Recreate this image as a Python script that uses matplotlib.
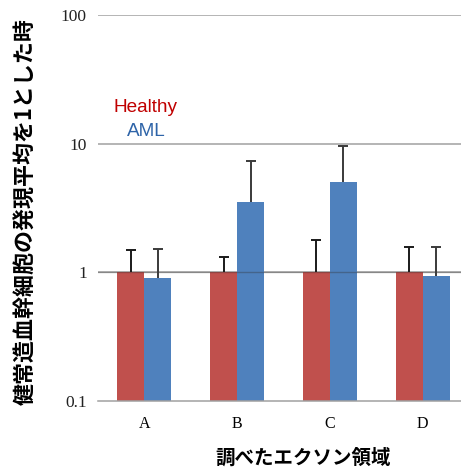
import matplotlib
matplotlib.use("Agg")
import matplotlib.pyplot as plt
import numpy as np

categories = ["A", "B", "C", "D"]
healthy = [1.0, 1.0, 1.0, 1.0]
aml = [0.90, 3.54, 5.07, 0.93]
healthy_err = [0.48, 0.32, 0.78, 0.57]
aml_err = [0.61, 3.79, 4.46, 0.64]
y_ticks = [0.1, 1, 10, 100]
y_tick_labels = ["0.1", "1", "10", "100"]

red = "#c0504d"
blue = "#4f81bd"

fig = plt.figure(figsize=(4.61, 4.70), dpi=100)
ax = fig.add_axes([98 / 461, 1 - 401 / 470, 371 / 461, 386 / 470])

x = np.arange(len(categories))
w = 0.29
ax.bar(x - w / 2, healthy, width=w, color=red, zorder=2)
ax.bar(x + w / 2, aml, width=w, color=blue, zorder=2)

# upper-only error bars
err_kw = dict(fmt="none", capsize=3.5, elinewidth=1.4, capthick=1.4, zorder=3)
for xs, vals, errs, col in [(x - w / 2, healthy, healthy_err, "#1a1a1a"),
                            (x + w / 2, aml, aml_err, "#3a3a3a")]:
    eb = ax.errorbar(xs, vals, yerr=[np.zeros(len(vals)), errs], ecolor=col, **err_kw)
    caps = eb[1]
    if len(caps) == 2:
        caps[0].set_visible(False)

ax.set_yscale("log")
ax.set_ylim(0.1, 100)
ax.set_xlim(-0.5, 3.5)

# horizontal guide lines at each decade
for v in y_ticks[1:]:
    ax.axhline(v, color="#a0a0a0", lw=1.1, zorder=1)
ax.axhline(1, color="#303030", lw=1.0, alpha=0.35, zorder=2.5)

for s in ["top", "right", "left"]:
    ax.spines[s].set_visible(False)
ax.spines["bottom"].set_color("#a0a0a0")
ax.spines["bottom"].set_linewidth(1.1)

ax.set_yticks(y_ticks)
ax.set_yticklabels(y_tick_labels, family="Liberation Serif", fontsize=12.5, color="#222222")
ax.yaxis.set_minor_locator(matplotlib.ticker.NullLocator())
ax.set_xticks(x)
ax.set_xticklabels(categories, family="Liberation Serif", fontsize=11.5)
ax.tick_params(axis="both", length=0)
ax.tick_params(axis="y", pad=8)
ax.tick_params(axis="x", pad=11)

# inline legend text
fig.text(113 / 461, 1 - 107 / 470, "Healthy", color="#c00000", family="Liberation Sans",
         fontsize=13.7, va="center", ha="left")
fig.text(127 / 461, 1 - 132 / 470, "AML", color="#2e64a8", family="Liberation Sans",
         fontsize=13.7, va="center", ha="left")

fig.text(26 / 461, 1 - 212 / 470, "健常造血幹細胞の発現平均を1とした時",
         family=["Noto Sans CJK JP", "DejaVu Sans"], fontweight="bold", fontsize=15.8,
         rotation=90, ha="center", va="center")
fig.text(303 / 461, 1 - 458 / 470, "調べたエクソン領域",
         family=["Noto Sans CJK JP", "DejaVu Sans"], fontweight="bold", fontsize=14,
         ha="center", va="center")

fig.savefig("out.png", dpi=100)
